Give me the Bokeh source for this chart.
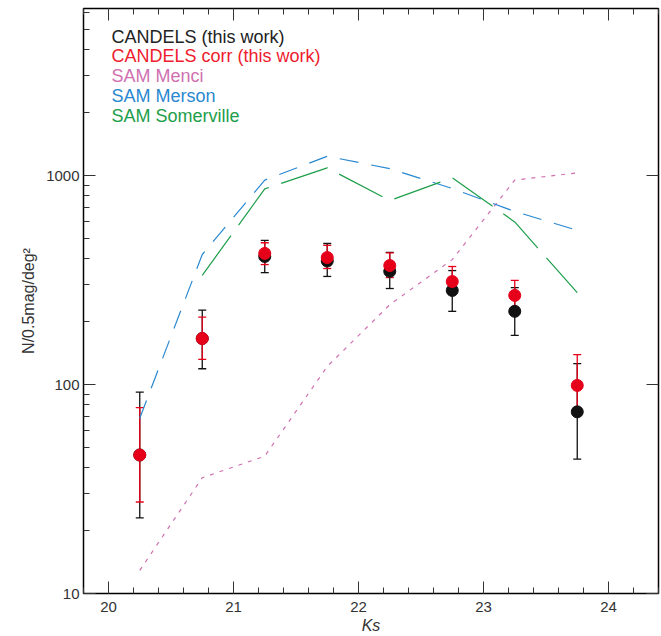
from bokeh.plotting import figure
from bokeh.models import (Range1d, LinearAxis, LogAxis, SingleIntervalTicker, FixedTicker,
                          ColumnDataSource, Whisker, TeeHead, Label, PrintfTickFormatter)
from bokeh.embed import file_html
from bokeh.resources import INLINE

# ---- data ----
ks = [20.25, 20.75, 21.25, 21.75, 22.25, 22.75, 23.25, 23.75]
candels = [46, 166, 410, 390, 348, 282, 224, 74]
candels_lo = [23, 119, 343, 329, 288, 224, 172, 44]
candels_hi = [92, 227, 489, 473, 429, 351, 291, 126]
corr = [46, 166, 424, 405, 371, 311, 267, 99]
corr_lo = [27.4, 132, 375, 359, 325, 270, 224, 71]
corr_hi = [77.6, 210, 477, 463, 427, 367, 315, 139]
menci_ks = [20.25, 20.75, 21.25, 21.75, 22.25, 22.75, 23.25, 23.75]
menci = [12.9, 35.8, 45.4, 122, 241, 396, 951, 1030]
merson_ks = [20.25, 20.75, 21.25, 21.75, 22.25, 22.75, 23.25, 23.75]
merson = [69, 419, 951, 1236, 1079, 867, 673, 547]
somerville_ks = [20.75, 21.25, 21.75, 22.25, 22.75, 23.25, 23.75]
somerville = [333, 863, 1088, 759, 975, 600, 275]

legend_texts = ["CANDELS (this work)", "CANDELS corr (this work)", "SAM Menci",
                "SAM Merson", "SAM Somerville"]
x_ticks = [20, 21, 22, 23, 24]
y_ticks = [10, 100, 1000]
x_title = "Ks"
y_title = "N/0.5mag/deg²"

BLACK = "#111111"
RED = "#e6001a"
PINK = "#d070b0"
BLUE = "#2a88d0"
GREEN = "#1d9e4a"
legend_colors = ["#222222", "#ee1c2e", PINK, BLUE, GREEN]
TXT = "#333333"
FONT = "Liberation Sans"

FW, FH = 575, 585
p = figure(frame_width=FW, frame_height=FH, y_axis_type="log",
           x_range=Range1d(19.8, 24.4), y_range=Range1d(10, 6300),
           output_backend="svg", toolbar_location=None,
           min_border_left=83, min_border_right=2, min_border_top=8, min_border_bottom=38)
p.background_fill_color = "white"
p.border_fill_color = "white"
p.grid.visible = False
p.outline_line_color = "black"
p.outline_line_width = 1.5

minor_y = [m * 10 ** e for e in range(1, 4) for m in range(2, 10)]

def style_axis(ax, labels=True):
    ax.major_tick_in = 12
    ax.major_tick_out = 0
    ax.minor_tick_in = 6
    ax.minor_tick_out = 0
    ax.major_tick_line_color = "#333333"
    ax.minor_tick_line_color = "#333333"
    ax.major_tick_line_width = 1
    ax.minor_tick_line_width = 1
    ax.axis_line_color = None
    if labels:
        ax.major_label_text_font = FONT
        ax.major_label_text_font_size = "15px"
        ax.major_label_text_color = TXT
    else:
        ax.major_label_text_font_size = "1px"
        ax.major_label_text_color = None
        ax.major_label_standoff = 0

xa = p.xaxis[0]
xa.ticker = SingleIntervalTicker(interval=1, num_minor_ticks=5)
style_axis(xa)
xa.major_label_standoff = 8
xa.axis_label = x_title
xa.axis_label_text_font = FONT
xa.axis_label_text_font_style = "italic"
xa.axis_label_text_font_size = "16px"
xa.axis_label_text_color = TXT
xa.axis_label_standoff = 2

ya = p.yaxis[0]
ya.ticker = FixedTicker(ticks=y_ticks, minor_ticks=minor_y)
ya.formatter = PrintfTickFormatter(format="%d")
style_axis(ya)
ya.major_label_standoff = 4
ya.axis_label = y_title
ya.axis_label_text_font = FONT
ya.axis_label_text_font_style = "normal"
ya.axis_label_text_font_size = "16px"
ya.axis_label_text_color = TXT
ya.axis_label_standoff = 6

top = LinearAxis(ticker=SingleIntervalTicker(interval=1, num_minor_ticks=5))
style_axis(top, labels=False)
p.add_layout(top, "above")
right = LogAxis(ticker=FixedTicker(ticks=y_ticks, minor_ticks=[]))
style_axis(right, labels=False)
p.add_layout(right, "right")

# model curves
p.line(menci_ks, menci, line_color=PINK, line_width=1.2, line_dash="4 6")
p.line(merson_ks, merson, line_color=BLUE, line_width=1.2, line_dash="19 13")
p.line(somerville_ks, somerville, line_color=GREEN, line_width=1.2, line_dash="49 13")

# CANDELS points with error bars
src_b = ColumnDataSource(dict(x=ks, y=candels, lo=candels_lo, hi=candels_hi))
src_r = ColumnDataSource(dict(x=ks, y=corr, lo=corr_lo, hi=corr_hi))

for src, col in ((src_b, BLACK), (src_r, RED)):
    w = Whisker(source=src, base="x", lower="lo", upper="hi", dimension="height",
                line_color=col, line_width=1.3,
                upper_head=TeeHead(size=8, line_color=col, line_width=1.3),
                lower_head=TeeHead(size=8, line_color=col, line_width=1.3))
    p.add_layout(w)
    p.scatter("x", "y", source=src, marker="circle", size=12, fill_color=col, line_color=col)

# text legend (screen units from the frame's lower-left corner)
for i, (t, c) in enumerate(zip(legend_texts, legend_colors)):
    p.add_layout(Label(x=28, y=FH - 28 - i * 19.8, x_units="screen", y_units="screen",
                       text=t, text_color=c, text_font=FONT, text_font_size="18px",
                       text_baseline="middle", text_align="left"))

open("out.html", "w").write(file_html(p, INLINE))
